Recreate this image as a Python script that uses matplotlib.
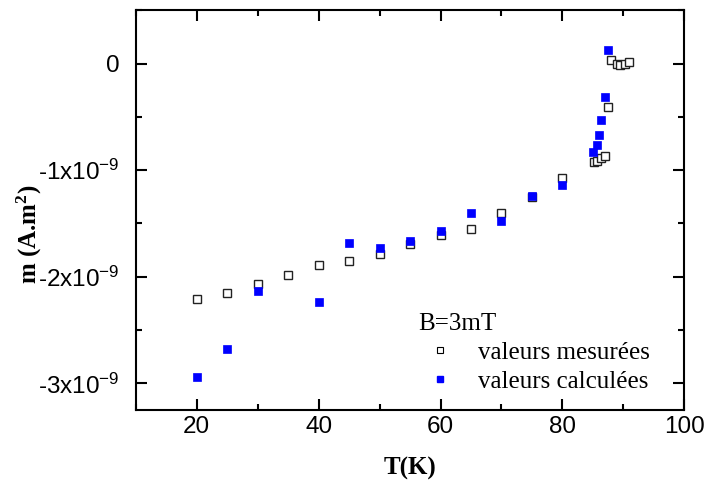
import matplotlib
matplotlib.use("Agg")
import matplotlib.pyplot as plt
from matplotlib.ticker import MultipleLocator, FixedLocator, FixedFormatter
from matplotlib.lines import Line2D

# measured values (open squares)
t_mes = [20, 25, 30, 35, 40, 45, 50, 55, 60, 65, 70, 75, 80,
         85.2, 85.7, 86.3, 87.0, 87.5, 87.9, 88.9, 89.5, 90.2, 91.0]
m_mes = [-2.21, -2.15, -2.07, -1.98, -1.885, -1.85, -1.785, -1.69, -1.61, -1.55, -1.405, -1.25, -1.075,
         -0.92, -0.91, -0.89, -0.87, -0.41, 0.03, 0.0, -0.01, 0.0, 0.01]

# calculated values (blue squares)
t_cal = [20, 25, 30, 40, 45, 50, 55, 60, 65, 70, 75, 80,
         85.0, 85.6, 86.0, 86.4, 87.0, 87.5]
m_cal = [-2.94, -2.68, -2.13, -2.24, -1.68, -1.73, -1.66, -1.57, -1.40, -1.48, -1.24, -1.14,
         -0.83, -0.76, -0.67, -0.53, -0.31, 0.13]

y_ticks = [0, -1e-9, -2e-9, -3e-9]
y_labels = ['0', r'-1x10$^{\mathregular{-9}}$', r'-2x10$^{\mathregular{-9}}$', r'-3x10$^{\mathregular{-9}}$']

scale = 1e-9
plt.rcParams['font.family'] = ['Liberation Sans', 'DejaVu Sans']
plt.rcParams['mathtext.default'] = 'regular'


def main():
    fig = plt.figure(figsize=(7.04, 4.87), dpi=100)
    ax = fig.add_axes([0.193, 0.158, 0.779, 0.821])

    ax.plot(t_mes, [v * scale for v in m_mes], 's', mfc='white', mec='#222222',
            mew=1.0, ms=6.0, linestyle='none')
    ax.plot(t_cal, [v * scale for v in m_cal], 's', mfc='#0000ff', mec='#0000ff',
            mew=0.5, ms=6.3, linestyle='none')

    ax.set_xlim(10, 100)
    ax.set_ylim(-3.25e-9, 0.5e-9)

    ax.xaxis.set_major_locator(FixedLocator([20, 40, 60, 80, 100]))
    ax.xaxis.set_minor_locator(MultipleLocator(10))
    ax.yaxis.set_major_locator(FixedLocator(y_ticks))
    ax.yaxis.set_major_formatter(FixedFormatter(y_labels))
    ax.yaxis.set_minor_locator(MultipleLocator(0.5e-9))

    ax.tick_params(which='both', direction='in', top=True, right=True, width=1.5,
                   labelsize=17.5, colors='black')
    ax.tick_params(which='major', length=8)
    ax.tick_params(which='minor', length=4)
    ax.tick_params(axis='x', which='major', pad=4)
    ax.tick_params(axis='y', which='major', pad=12)
    for s in ax.spines.values():
        s.set_linewidth(1.5)

    ax.set_xlabel('T(K)', fontfamily='Liberation Serif', fontweight='bold', fontsize=18, labelpad=14)
    ax.set_ylabel(r'm (A.m$^{\mathregular{2}}$)', fontfamily='Liberation Serif', fontweight='bold',
                  fontsize=18)
    ax.yaxis.set_label_coords(-0.168, 0.44)

    handles = [Line2D([], [], marker='s', mfc='white', mec='black', mew=0.8, ms=4.5, ls='none'),
               Line2D([], [], marker='s', mfc='#0000ff', mec='#0000ff', ms=4.5, ls='none')]
    leg = ax.legend(handles, ['valeurs mesurées', 'valeurs calculées'], title='B=3mT',
                    loc='upper left', bbox_to_anchor=(0.515, 0.2425), frameon=False,
                    prop={'family': 'Liberation Serif', 'size': 18},
                    title_fontproperties={'family': 'Liberation Serif', 'size': 18},
                    handlelength=1.75, handletextpad=0.64, labelspacing=0.25,
                    borderaxespad=0, borderpad=0)
    leg._legend_box.align = 'left'

    fig.savefig('out.png', dpi=100)


if __name__ == "__main__":
    main()
